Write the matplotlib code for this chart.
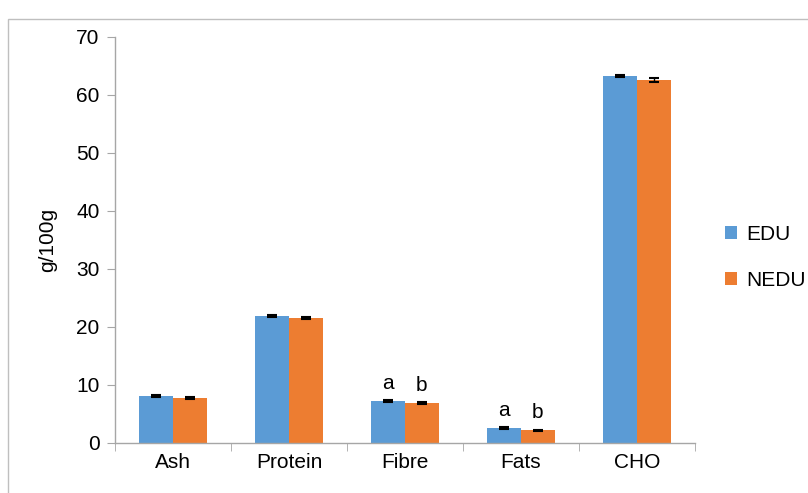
import matplotlib
matplotlib.use("Agg")
import matplotlib.pyplot as plt
import numpy as np
from matplotlib.patches import Rectangle

plt.rcParams['font.family'] = ['Liberation Sans', 'DejaVu Sans']

categories = ["Ash", "Protein", "Fibre", "Fats", "CHO"]
edu = [8.1, 21.9, 7.2, 2.6, 63.3]
nedu = [7.8, 21.6, 6.9, 2.2, 62.6]
edu_err = [0.15, 0.15, 0.15, 0.12, 0.2]
nedu_err = [0.15, 0.15, 0.12, 0.12, 0.35]
letters_edu = ["", "", "a", "a", ""]
letters_nedu = ["", "", "b", "b", ""]

blue = "#5B9BD5"
orange = "#ED7D31"
axis_col = "#A6A6A6"
fs = 15

fig = plt.figure(figsize=(8.08, 4.93), dpi=100)
ax = fig.add_axes([115/808, 50/493, 580/808, 406/493])

x = np.arange(len(categories))
w = 0.29
ekw = dict(ecolor="black", elinewidth=1, capthick=1.5)
ax.bar(x - w/2, edu, w, color=blue, yerr=edu_err, capsize=3.5, error_kw=ekw, label="EDU")
ax.bar(x + w/2, nedu, w, color=orange, yerr=nedu_err, capsize=3.5, error_kw=ekw, label="NEDU")

for i in range(len(categories)):
    if letters_edu[i]:
        ax.text(x[i] - w/2, edu[i] + 1.4, letters_edu[i], ha="center", va="bottom", fontsize=fs)
    if letters_nedu[i]:
        ax.text(x[i] + w/2, nedu[i] + 1.4, letters_nedu[i], ha="center", va="bottom", fontsize=fs)

ax.set_xlim(-0.5, len(categories) - 0.5)
ax.set_ylim(0, 70)
ax.set_yticks(range(0, 71, 10))
ax.set_xticks(x)
ax.set_xticklabels(categories, fontsize=fs)
ax.set_xticks(np.arange(-0.5, len(categories)), minor=True)
ax.tick_params(axis="x", which="major", length=0, pad=7)
ax.tick_params(axis="x", which="minor", length=6, color=axis_col, direction="out")
ax.tick_params(axis="y", labelsize=fs, length=6, color=axis_col, direction="out", pad=5)

for s in ["top", "right"]:
    ax.spines[s].set_visible(False)
for s in ["left", "bottom"]:
    ax.spines[s].set_color(axis_col)
    ax.spines[s].set_linewidth(1)

ax.set_ylabel("g/100g", fontsize=fs, labelpad=14)

leg = ax.legend(loc="center left", bbox_to_anchor=(1.02, 0.458), frameon=False,
                fontsize=fs, handlelength=0.58, handleheight=0.58, labelspacing=1.3,
                handletextpad=0.4)

fig.patches.append(Rectangle((8/808, -0.1), 1.2, (493-19)/493 + 0.1, transform=fig.transFigure,
                             fill=False, edgecolor="#BFBFBF", linewidth=1))

fig.savefig("out.png", dpi=100)
